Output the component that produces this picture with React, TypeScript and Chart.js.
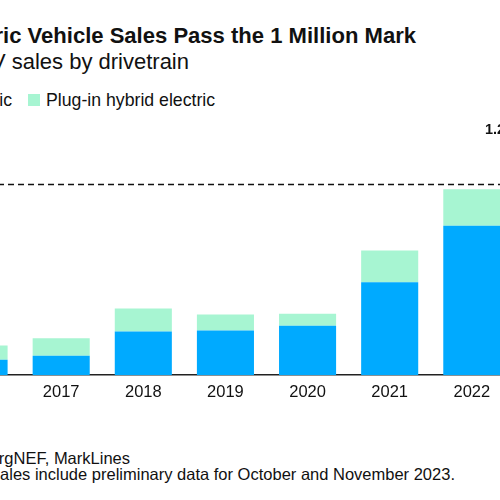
import React, { useEffect, useRef } from "react";
import { Chart, registerables } from "chart.js";

Chart.register(...registerables);

const years = ["2016", "2017", "2018", "2019", "2020", "2021", "2022", "2023"];
const batteryElectric = [81, 102, 228, 234, 258, 486, 781, 950]; // thousands
const plugInHybrid = [74, 91, 121, 84, 63, 166, 191, 250]; // thousands
const millionMark = 1000;
const totalLabel2023 = "1.2M";

const FONT = "'Liberation Sans', Arial, Helvetica, sans-serif";
const BLUE = "#00AAFF";
const GREEN = "#A7F5D2";

const refLinePlugin = {
  id: "refLine",
  beforeDatasetsDraw(chart: any) {
    const { ctx, chartArea, scales } = chart;
    const y = Math.round(scales.y.getPixelForValue(millionMark)) + 0.5;
    ctx.save();
    ctx.strokeStyle = "#111";
    ctx.lineWidth = 1.5;
    ctx.setLineDash([6, 4]);
    ctx.beginPath();
    ctx.moveTo(chartArea.left, y);
    ctx.lineTo(chartArea.right, y);
    ctx.stroke();
    ctx.restore();
  },
  afterDatasetsDraw(chart: any) {
    const { ctx, scales } = chart;
    const i = years.length - 1;
    const x = scales.x.getPixelForValue(i);
    const top = scales.y.getPixelForValue(batteryElectric[i] + plugInHybrid[i]);
    ctx.save();
    ctx.fillStyle = "#111";
    ctx.font = `600 14.5px ${FONT}`;
    ctx.textAlign = "left";
    ctx.textBaseline = "middle";
    ctx.fillText(totalLabel2023, x - 69, top - 16);
    ctx.restore();
  },
};

function BarChart() {
  const ref = useRef<HTMLCanvasElement>(null);
  useEffect(() => {
    if (!ref.current) return;
    const chart = new Chart(ref.current, {
      type: "bar",
      data: {
        labels: years,
        datasets: [
          {
            label: "Battery electric",
            data: batteryElectric,
            backgroundColor: BLUE,
            borderWidth: 0,
          },
          {
            label: "Plug-in hybrid electric",
            data: plugInHybrid,
            backgroundColor: GREEN,
            borderWidth: 0,
          },
        ],
      },
      options: {
        animation: false,
        responsive: true,
        maintainAspectRatio: false,
        layout: { padding: 0 },
        datasets: {
          bar: { categoryPercentage: 1, barPercentage: 0.695 },
        },
        plugins: {
          legend: { display: false },
          title: { display: false },
          tooltip: { enabled: false },
        },
        scales: {
          x: {
            stacked: true,
            grid: { display: false, drawTicks: false },
            border: { display: true, color: "#222", width: 1.5 },
            ticks: {
              color: "#111",
              padding: 7,
              font: { family: FONT, size: 16.5 },
            },
          },
          y: {
            stacked: true,
            display: false,
            min: 0,
            max: 1350,
          },
        },
      },
      plugins: [refLinePlugin],
    });
    return () => chart.destroy();
  }, []);
  return (
    <div style={{ position: "absolute", left: -62, top: 117, width: 657, height: 292 }}>
      <canvas ref={ref} />
    </div>
  );
}

const textBase: React.CSSProperties = {
  position: "absolute",
  whiteSpace: "nowrap",
  lineHeight: 1,
  fontFamily: FONT,
  color: "#111",
};

export default function App() {
  return (
    <div
      style={{
        position: "fixed",
        left: 0,
        top: 0,
        width: 500,
        height: 500,
        overflow: "hidden",
        background: "#fff",
      }}
    >
      <div style={{ ...textBase, right: 84, top: 25.3, fontSize: 22.05, fontWeight: 700 }}>
        US Electric Vehicle Sales Pass the 1 Million Mark
      </div>
      <div style={{ ...textBase, right: 311, top: 51, fontSize: 22 }}>US EV sales by drivetrain</div>
      <div style={{ ...textBase, right: 488, top: 91.5, fontSize: 17.7, display: "flex", alignItems: "center" }}>
        <span style={{ width: 12, height: 12, background: BLUE, marginRight: 6, display: "inline-block" }} />
        Battery electric
      </div>
      <div style={{ ...textBase, left: 28, top: 91.5, fontSize: 17.7, display: "flex", alignItems: "center" }}>
        <span style={{ width: 12, height: 12, background: GREEN, marginRight: 6, display: "inline-block" }} />
        Plug-in hybrid electric
      </div>
      <BarChart />
      <div style={{ ...textBase, right: 370, top: 449.5, fontSize: 16.5 }}>Source: BloombergNEF, MarkLines</div>
      <div style={{ ...textBase, right: 45, top: 466, fontSize: 16.5 }}>
        Note: 2023 sales include preliminary data for October and November 2023.
      </div>
    </div>
  );
}
